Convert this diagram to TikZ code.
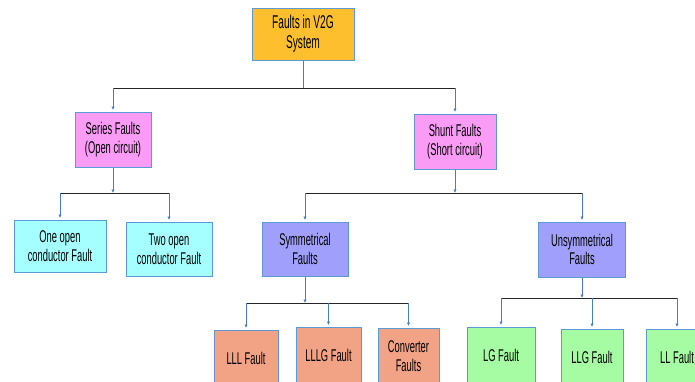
\documentclass[tikz,border=0pt]{standalone}
\usepackage{fontspec}
\setmainfont{Liberation Sans}[FakeStretch=0.55]
\usetikzlibrary{arrows.meta}

\definecolor{boxline}{HTML}{5B9BD5}
\definecolor{linkblue}{HTML}{4A7EBB}
\definecolor{orangefill}{HTML}{FDBF2D}
\definecolor{pinkfill}{HTML}{FA9CF6}
\definecolor{cyanfill}{HTML}{A6FFFF}
\definecolor{violetfill}{HTML}{A0A0FC}
\definecolor{salmonfill}{HTML}{F3A385}
\definecolor{greenfill}{HTML}{A6FCA2}

\begin{document}
\begin{tikzpicture}[x=1pt,y=-1pt,
	fault/.style={draw=boxline,line width=1pt,align=center,inner sep=0pt,
		font=\fontsize{17}{18.5}\selectfont},
	link/.style={draw=linkblue,line width=0.9pt,-{Latex[length=3.5pt,width=3.5pt]}},
	drop/.style={link,shorten >=1.5pt},
	bar/.style={draw=black!85,line width=1pt}]
	\useasboundingbox (0,0) rectangle (695,381);
	\clip (0,0) rectangle (695,381);

	% levels of the tree
	\node[fault,fill=orangefill,minimum width=102pt,minimum height=52pt,font=\fontsize{18.5}{20}\selectfont] at (303,34) (root) {Faults in V2G\\System};

	\node[fault,fill=pinkfill,minimum width=76pt,minimum height=55pt] at (113,139.5) (series) {Series Faults\\(Open circuit)};
	\node[fault,fill=pinkfill,minimum width=82pt,minimum height=55pt] at (455,141.5) (shunt) {Shunt Faults\\(Short circuit)};

	\node[fault,fill=cyanfill,minimum width=92pt,minimum height=52pt] at (60,246) (oneopen) {One open\\conductor Fault};
	\node[fault,fill=cyanfill,minimum width=86pt,minimum height=54pt] at (169,249) (twoopen) {Two open\\conductor Fault};
	\node[fault,fill=violetfill,minimum width=86pt,minimum height=54pt] at (305,249) (sym) {Symmetrical\\Faults};
	\node[fault,fill=violetfill,minimum width=87pt,minimum height=55pt] at (582,249.5) (unsym) {Unsymmetrical\\Faults};

	\node[fault,fill=salmonfill,minimum width=64pt,minimum height=56pt] at (246,358) (lll) {LLL Fault};
	\node[fault,fill=salmonfill,minimum width=65pt,minimum height=56pt] at (328.5,355) (lllg) {LLLG Fault};
	\node[fault,fill=salmonfill,minimum width=61pt,minimum height=56pt] at (408.5,356) (conv) {Converter\\Faults};
	\node[fault,fill=greenfill,minimum width=68pt,minimum height=56pt] at (501,355) (lg) {LG Fault};
	\node[fault,fill=greenfill,minimum width=62pt,minimum height=56pt] at (592,357) (llg) {LLG Fault};
	\node[fault,fill=greenfill,minimum width=62pt,minimum height=56pt] at (677,357) (ll) {LL Fault};

	% split points
	\coordinate (split1) at (303,88);
	\coordinate (split2) at (113,193);
	\coordinate (split3) at (455,193);
	\coordinate (split4) at (305,303);
	\coordinate (split5) at (582,298);

	% bars
	\draw[bar] (series |- split1) -- (shunt |- split1);
	\draw[bar] (oneopen |- split2) -- (twoopen |- split2);
	\draw[bar] (sym |- split3) -- (unsym |- split3);
	\draw[bar] (lll |- split4) -- (conv |- split4);
	\draw[bar] (lg |- split5) -- (ll |- split5);

	% connectors
	\draw[draw=linkblue,line width=0.9pt] (root.south) -- (split1);
	\path (series.south) edge[link] (split2)
		(shunt.south) edge[link] (split3)
		(sym.south) edge[link] (split4)
		(unsym.south) edge[link] (split5);
	\path (series |- split1) edge[drop] (series.north)
		(shunt |- split1) edge[drop] (shunt.north)
		(oneopen |- split2) edge[drop] (oneopen.north)
		(twoopen |- split2) edge[drop] (twoopen.north)
		(sym |- split3) edge[drop] (sym.north)
		(unsym |- split3) edge[drop] (unsym.north)
		(lll |- split4) edge[drop] (lll.north)
		(lllg |- split4) edge[drop] (lllg.north)
		(conv |- split4) edge[drop] (conv.north)
		(lg |- split5) edge[drop] (lg.north)
		(llg |- split5) edge[drop] (llg.north)
		(ll |- split5) edge[drop] (ll.north);
\end{tikzpicture}
\end{document}
